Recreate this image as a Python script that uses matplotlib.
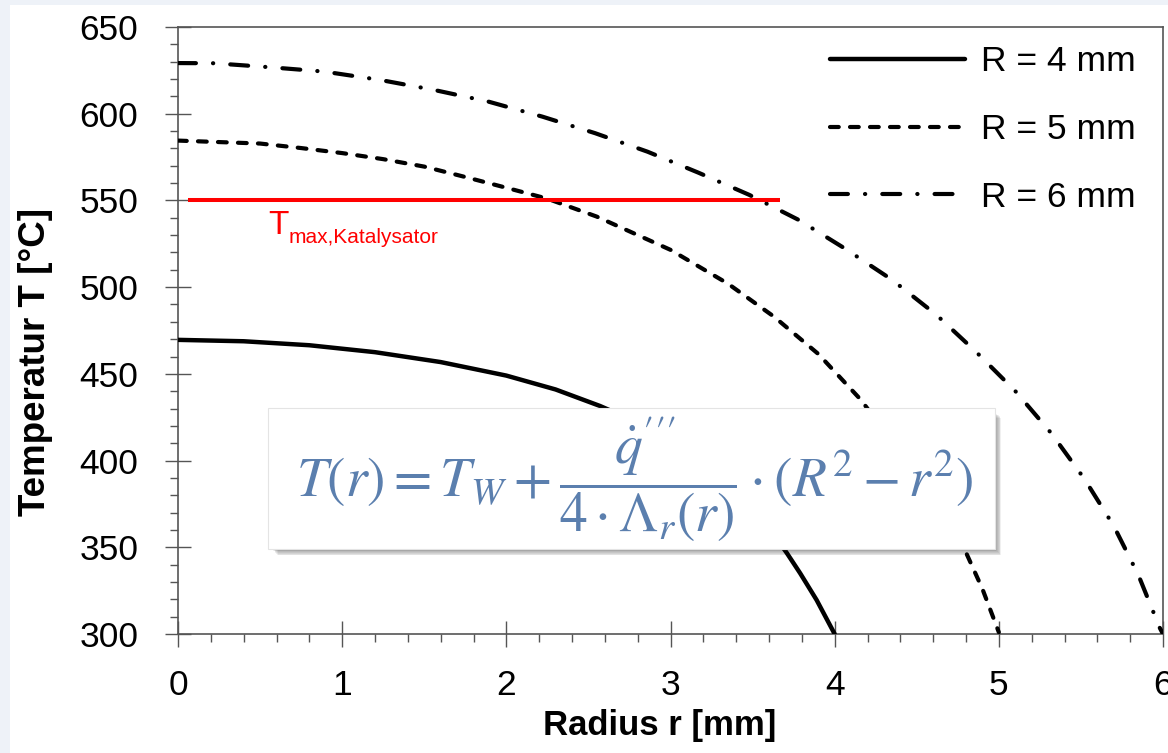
import matplotlib
matplotlib.use("Agg")
import matplotlib.pyplot as plt
import matplotlib.transforms as mtransforms
from matplotlib.patches import Rectangle
from matplotlib.ticker import MultipleLocator

plt.rcParams['font.family'] = ['Liberation Sans', 'DejaVu Sans']

# radius r [mm] and temperature T [degC]
r_4 = [0, 0.4, 0.8, 1.2, 1.6, 2.0, 2.3, 2.57, 2.8, 3.0, 3.2, 3.4, 3.55, 3.71, 3.79, 3.89, 4.0]
t_4 = [469.6, 468.8, 466.5, 462.5, 456.8, 449, 441, 431.5, 422, 412.5, 400, 386, 368, 346.5, 335, 319.6, 300]

r_5 = [0, 0.5, 0.75, 1.0, 1.25, 1.5, 1.75, 2.0, 2.25, 2.55, 3.0, 3.35, 3.63, 3.9, 4.16, 4.5, 4.8, 4.9, 5.0]
t_5 = [584.5, 582.8, 580.2, 577.3, 573.8, 569.5, 563.5, 557.3, 551, 540.7, 521.5, 502, 483, 461.5, 435, 392, 347, 326, 301]

r_6 = [0, 0.22, 0.56, 0.89, 1.23, 1.56, 1.89, 2.22, 2.54, 2.86, 3.17, 3.48, 3.78, 4.06, 4.35, 4.62, 4.86,
       5.10, 5.32, 5.52, 5.70, 5.85, 5.98, 6.0]
t_6 = [629.2, 629.1, 626.8, 624.3, 619.5, 613.7, 607, 598.3, 588.8, 578.1, 566, 553.2, 538.8, 522.4, 504.2, 484, 462.8,
       440.1, 415.7, 389.6, 362.3, 334, 303.6, 300]

labels = ['R = 4 mm', 'R = 5 mm', 'R = 6 mm']
t_max = 550
t_max_span = [0.06, 3.67]

formula = r"$T(r) = T_W + \dfrac{\dot{q}'''}{4\cdot\Lambda_r(r)}\cdot(R^2 - r^2)$"

W, H = 1168, 753
fig = plt.figure(figsize=(W / 100, H / 100), dpi=100, facecolor='#eef2f8')
fig.patches.append(Rectangle((10 / W, 0), 1, 1 - 5 / H, transform=fig.transFigure,
                             facecolor='white', edgecolor='none', zorder=-5))

ax = fig.add_axes([178 / W, 1 - 634 / H, (1163 - 178) / W, (634 - 27) / H])

dash = (0, (2.1, 2.7))
dashdot = (0, (4.3, 4.1, 0.05, 4.1))
ax.plot(r_4, t_4, color='black', lw=3.2, solid_capstyle='round', label=labels[0], zorder=3)
ax.plot(r_5, t_5, color='black', lw=3.0, linestyle=dash, dash_capstyle='round', label=labels[1], zorder=3)
ax.plot(r_6, t_6, color='black', lw=3.0, linestyle=dashdot, dash_capstyle='round', label=labels[2], zorder=3)

ax.hlines(t_max, t_max_span[0], t_max_span[1], color='#ff0000', lw=2.9, zorder=4)
ax.text(0.55, 530.5, 'T', color='#ff0000', fontsize=24, va='baseline')
ax.text(0.675, 525.5, 'max,Katalysator', color='#ff0000', fontsize=15, va='baseline')

ax.set_xlim(0, 6)
ax.set_ylim(300, 650)
ax.xaxis.set_major_locator(MultipleLocator(1))
ax.xaxis.set_minor_locator(MultipleLocator(0.2))
ax.yaxis.set_major_locator(MultipleLocator(50))
ax.yaxis.set_minor_locator(MultipleLocator(10))
ax.tick_params(which='major', direction='inout', length=19, width=1, color='#555555', labelsize=25.5)
ax.tick_params(axis='x', which='major', pad=16)
ax.tick_params(axis='y', which='major', pad=19)
ax.tick_params(which='minor', direction='out', length=6, width=1, color='#555555')
for sp in ax.spines.values():
    sp.set_color('#555555')
    sp.set_linewidth(1.2)

ax.set_xlabel('Radius r [mm]', fontsize=25, fontweight='bold', va='center')
ax.xaxis.set_label_coords(0.489, -0.15)
ax.set_ylabel('Temperatur T [°C]', fontsize=26.5, fontweight='bold', va='center', ha='center')
ax.yaxis.set_label_coords(-0.145, 0.448)

ax.legend(loc='upper left', bbox_to_anchor=(0.662, 0.97), frameon=False, fontsize=25.5,
          handlelength=3.8, handletextpad=0.45, labelspacing=0.98, borderpad=0, borderaxespad=0)

# formula box with soft shadow
bx0, bx1, by0, by1 = 0.549, 4.976, 349, 430.3
for k in range(1, 9):
    tr = mtransforms.offset_copy(ax.transData, fig=fig, x=k * 0.8, y=-k * 0.8, units='dots')
    ax.add_patch(Rectangle((bx0 + 0.02, by0), bx1 - bx0 - 0.02, by1 - by0 - 2, transform=tr,
                           facecolor='black', edgecolor='none', alpha=0.06, zorder=5))
ax.add_patch(Rectangle((bx0, by0), bx1 - bx0, by1 - by0, facecolor='white',
                       edgecolor='#e4e4e4', lw=0.8, zorder=5))
ax.text((bx0 + bx1) / 2 + 0.02, 389, formula, ha='center', va='center', fontsize=40,
        color='#5b7fae', math_fontfamily='stix', zorder=6)

fig.savefig('out.png', dpi=100, facecolor=fig.get_facecolor())
